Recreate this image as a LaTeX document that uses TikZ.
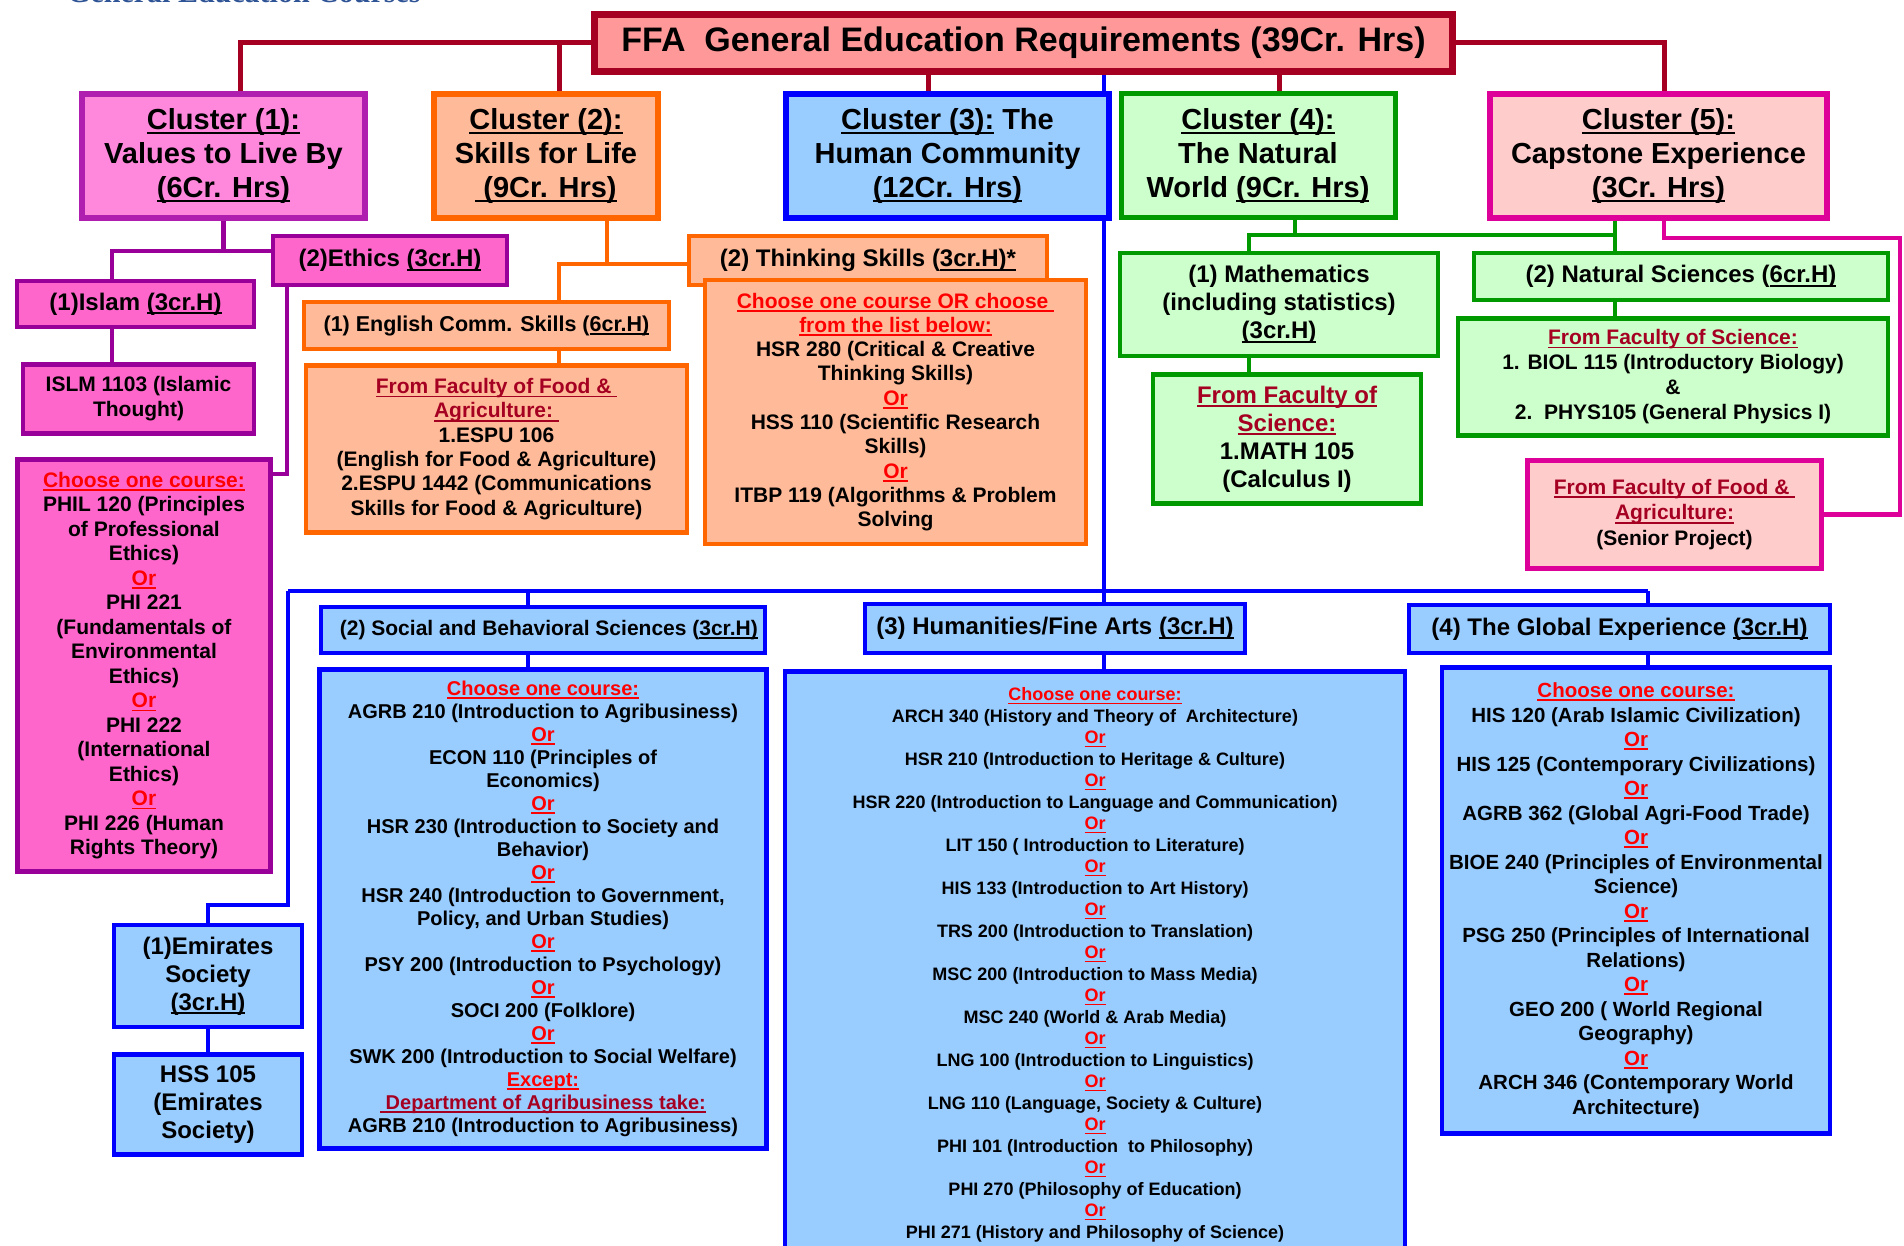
\documentclass[tikz,border=0pt]{standalone}
\usepackage{fontspec}
\setmainfont{Liberation Sans}
\newfontfamily\headserif{Liberation Serif}
\usetikzlibrary{positioning}

\definecolor{ttlfill}{HTML}{FF9999}
\definecolor{ttlline}{HTML}{A50021}
\definecolor{valfill}{HTML}{FF88DD}
\definecolor{valline}{HTML}{B01EB0}
\definecolor{vsubfill}{HTML}{FF66CC}
\definecolor{vsubline}{HTML}{990099}
\definecolor{sklfill}{HTML}{FFBB99}
\definecolor{sklline}{HTML}{FF6600}
\definecolor{humfill}{HTML}{99CCFF}
\definecolor{humline}{HTML}{0000FF}
\definecolor{natfill}{HTML}{CCFFCC}
\definecolor{natline}{HTML}{009900}
\definecolor{capfill}{HTML}{FFCCCC}
\definecolor{capline}{HTML}{DD0099}
\definecolor{orred}{HTML}{FF0000}
\definecolor{facred}{HTML}{A50021}
\definecolor{headblue}{HTML}{2F5496}

\newcommand{\uln}[1]{\setbox0=\hbox{#1}\rlap{\rule[-0.17em]{\wd0}{0.08em}}\box0\relax}
\newcommand{\orline}{\textcolor{orred}{\uln{Or}}}
\newcommand{\pick}[1]{\textcolor{orred}{\uln{#1}}}
\newcommand{\faculty}[1]{\textcolor{facred}{\uln{#1}}}

\begin{document}
\begin{tikzpicture}[
	x=1pt, y=-1pt,
	every node/.style = {shape=rectangle, align=center, inner sep=0pt, font=\bfseries},
	dims/.style 2 args = {minimum width=#1pt, minimum height=#2pt},
	fs/.style 2 args = {font=\fontsize{#1}{#2}\selectfont\bfseries},
	ttl/.style = {draw=ttlline, fill=ttlfill, line width=7pt},
	clus/.style = {line width=6pt, fs={29}{34}},
	val/.style = {draw=valline, fill=valfill},
	valsub/.style = {draw=vsubline, fill=vsubfill, line width=4.5pt},
	skl/.style = {draw=sklline, fill=sklfill, line width=4.5pt},
	hum/.style = {draw=humline, fill=humfill, line width=4.5pt},
	nat/.style = {draw=natline, fill=natfill, line width=4.5pt},
	capst/.style = {draw=capline, fill=capfill, line width=5pt},
	link/.style = {line width=4.5pt},
	]
\useasboundingbox (0,0) rectangle (1904,1246);

% page heading, cut off at the top edge
\node[anchor=base west, font=\fontsize{30}{36}\selectfont\headserif\bfseries, text=headblue] (hd) at (67,3) {General Education Courses};

% title and the five clusters
\node[ttl, dims={858}{57}, fs={34}{40}] (T) at (1023.5,43) {FFA\ \ General Education Requirements (39Cr. Hrs)};
\node[val, clus, dims={283}{124}] (C1) at (223.5,156) {\uln{Cluster (1):}\\Values to Live By\\\uln{(6Cr. Hrs)}};
\node[skl, clus, dims={224}{124}] (C2) at (546,156) {\uln{Cluster (2):}\\Skills for Life\\\uln{\ (9Cr. Hrs)}};
\node[hum, clus, dims={323}{124}] (C3) at (947.5,156) {\uln{Cluster (3):} The\\Human Community\\\uln{(12Cr. Hrs)}};
\node[nat, clus, line width=5pt, dims={274}{124}] (C4) at (1258,156) {\uln{Cluster (4):}\\The Natural\\World \uln{(9Cr. Hrs)}};
\node[capst, clus, dims={337}{124}] (C5) at (1658.5,156) {\uln{Cluster (5):}\\Capstone Experience\\\uln{(3Cr. Hrs)}};

% cluster 1
\node[valsub, dims={234}{49}, fs={24}{28}] (E2) at (390,260.5) {(2)Ethics \uln{(3cr.H)}};
\node[valsub, dims={237}{46}, fs={24}{28}] (E1) at (135.5,304) {(1)Islam \uln{(3cr.H)}};
\node[valsub, dims={231}{69}, fs={21}{25}] (ISLM) [below=33pt of E1, xshift=3pt] {ISLM 1103 (Islamic\\Thought)};
\node[valsub, line width=5pt, dims={253}{412}, fs={21}{24.5}] (EthList) at (144,665.5) {\pick{Choose one course:}\\PHIL 120 (Principles\\of Professional\\Ethics)\\\orline\\PHI 221\\(Fundamentals of\\Environmental\\Ethics)\\\orline\\PHI 222\\(International\\Ethics)\\\orline\\PHI 226 (Human\\Rights Theory)};

% cluster 2
\node[skl, dims={365}{47}, fs={21.5}{25}] (S1) at (486.5,325.5) {(1) English Comm. Skills (\uln{6cr.H)}};
\node[skl, dims={381}{167}, fs={21}{24.3}] (S1L) [below=12pt of S1, xshift=10pt] {\faculty{From Faculty of Food \&\ }\\\faculty{Agriculture:\ }\\1.ESPU 106\\(English for Food \& Agriculture)\\2.ESPU 1442 (Communications\\Skills for Food \& Agriculture)};
\node[skl, dims={358}{49}, fs={24}{28}] (S2) at (868,260.5) {(2) Thinking Skills (\uln{3cr.H)*}};
\node[skl, dims={381}{264}, fs={21}{24.3}] (S2L) at (895.5,412) {\pick{Choose one course OR choose\ }\\\pick{from the list below:}\\HSR 280 (Critical \& Creative\\Thinking Skills)\\\orline\\HSS 110 (Scientific Research\\Skills)\\\orline\\ITBP 119 (Algorithms \& Problem\\Solving};

% cluster 4
\node[nat, dims={318}{103}, fs={24}{28}] (N1) at (1279,304.5) {(1) Mathematics\\(including statistics)\\\uln{(3cr.H)}};
\node[nat, dims={268}{129}, fs={24}{28}] (N1L) [below=14pt of N1, xshift=8pt] {\faculty{From Faculty of}\\\faculty{Science:}\\1.MATH 105\\(Calculus I)};
\node[nat, dims={414}{47}, fs={24}{28}] (N2) at (1681,276.5) {(2) Natural Sciences (\uln{6cr.H)}};
\node[nat, dims={430}{117}, fs={21}{25}] (N2L) [below=14pt of N2, xshift=-8pt] {\faculty{From Faculty of Science:}\\1. BIOL 115 (Introductory Biology)\\\&\\2.\ \ PHYS105 (General Physics I)};

% cluster 5
\node[capst, dims={294}{108}, fs={21}{25.5}] (P1) at (1674.5,514.5) {\faculty{From Faculty of Food \&\ }\\\faculty{Agriculture:}\\(Senior Project)};

% cluster 3
\node[hum, dims={188}{102}, fs={24}{28}] (H1) at (208,976) {(1)Emirates\\Society\\\uln{(3cr.H)}};
\node[hum, dims={188}{100}, fs={24}{28}] (H1L) [below=23pt of H1] {HSS 105\\(Emirates\\Society)};
\node[hum, dims={444}{46}, fs={21}{25}] (H2) at (543,630) {\ \ (2) Social and Behavioral Sciences (\uln{3cr.H)}};
\node[hum, dims={447}{479}, fs={20}{23}] (H2L) [below=12pt of H2] {\pick{Choose one course:}\\AGRB 210 (Introduction to Agribusiness)\\\orline\\ECON 110 (Principles of\\Economics)\\\orline\\HSR 230 (Introduction to Society and\\Behavior)\\\orline\\HSR 240 (Introduction to Government,\\Policy, and Urban Studies)\\\orline\\PSY 200 (Introduction to Psychology)\\\orline\\SOCI 200 (Folklore)\\\orline\\SWK 200 (Introduction to Social Welfare)\\\pick{Except:}\\\faculty{\ Department of Agribusiness take:}\\AGRB 210 (Introduction to Agribusiness)};
\node[hum, dims={380}{49}, fs={24}{28}] (H3) at (1055,628.5) {(3) Humanities/Fine Arts \uln{(3cr.H)}};
\node[hum, dims={620}{587}, fs={18}{21.5}] (H3L) [below=14pt of H3, xshift=40pt] {\pick{Choose one course:}\\ARCH 340 (History and Theory of\ \ Architecture)\\\orline\\HSR 210 (Introduction to Heritage \& Culture)\\\orline\\HSR 220 (Introduction to Language and Communication)\\\orline\\LIT 150 ( Introduction to Literature)\\\orline\\HIS 133 (Introduction to Art History)\\\orline\\TRS 200 (Introduction to Translation)\\\orline\\MSC 200 (Introduction to Mass Media)\\\orline\\MSC 240 (World \& Arab Media)\\\orline\\LNG 100 (Introduction to Linguistics)\\\orline\\LNG 110 (Language, Society \& Culture)\\\orline\\PHI 101 (Introduction\ \ to Philosophy)\\\orline\\PHI 270 (Philosophy of Education)\\\orline\\PHI 271 (History and Philosophy of Science)};
\node[hum, dims={421}{48}, fs={24}{28}] (H4) at (1619.5,629) {(4) The Global Experience \uln{(3cr.H)}};
\node[hum, dims={388}{466}, fs={20.5}{24.5}] (H4L) [below=10pt of H4, xshift=16.5pt] {\pick{Choose one course:}\\HIS 120 (Arab Islamic Civilization)\\\orline\\HIS 125 (Contemporary Civilizations)\\\orline\\AGRB 362 (Global Agri-Food Trade)\\\orline\\BIOE 240 (Principles of Environmental\\Science)\\\orline\\PSG 250 (Principles of International\\Relations)\\\orline\\GEO 200 ( World Regional\\Geography)\\\orline\\ARCH 346 (Contemporary World\\Architecture)};

% links from the title
\draw[link, ttlline, line width=5pt] (T.west) -| ([xshift=16.5pt]C1.north);
\draw[link, ttlline, line width=5pt] ([xshift=13pt]C2.north) -- ([xshift=13pt]C2.north |- T.west);
\draw[link, ttlline, line width=5pt] ([xshift=-19.5pt]C3.north) -- ([xshift=-19.5pt]C3.north |- T.south);
\draw[link, ttlline, line width=5pt] ([xshift=21.5pt]C4.north) -- ([xshift=21.5pt]C4.north |- T.south);
\draw[link, ttlline, line width=5pt] (T.east) -| ([xshift=5.5pt]C5.north);

% cluster 1 links
\coordinate (pj) at (112,251);
\coordinate (pe) at (287,474);
\draw[link, vsubline] (C1.south) -- (C1.south |- pj);
\draw[link, vsubline] (pj |- E1.north) -- (pj) -- (pj -| E2.west);
\draw[link, vsubline] (pj |- E1.south) -- (pj |- ISLM.north);
\draw[link, vsubline] (pe |- E2.south) -- (pe) -- (pe -| EthList.east);

% cluster 2 links
\coordinate (oj) at (559,264);
\draw[link, sklline] ([xshift=61pt]C2.south) -- ([xshift=61pt]C2.south |- oj);
\draw[link, sklline] (oj |- S1.north) -- (oj) -- (oj -| S2.west);
\draw[link, sklline] (oj |- S1.south) -- (oj |- S1L.north);

% cluster 3 links
\coordinate (busL) at (288,591);
\coordinate (bsbs) at (528,591);
\coordinate (bb) at (1104,591);
\coordinate (busR) at (1648,591);
\draw[link, humline] (T.south -| bb) -- (C3.north -| bb);
\draw[link, humline] (C3.south -| bb) -- (bb);
\draw[link, humline] (busL) -- (busR);
\draw[link, humline] (busL) -- (busL |- 0,905) -| (H1.north);
\draw[link, humline] (H1.south) -- (H1L.north);
\draw[link, humline] (bsbs) -- (bsbs |- H2.north);
\draw[link, humline] (bsbs |- H2.south) -- (bsbs |- H2L.north);
\draw[link, humline] (bb) -- (bb |- H3.north);
\draw[link, humline] (bb |- H3.south) -- (bb |- H3L.north);
\draw[link, humline] (busR) -- (busR |- H4.north);
\draw[link, humline] (busR |- H4.south) -- (busR |- H4L.north);

% cluster 4 links
\coordinate (gj) at (1249,235);
\coordinate (gk) at (1615,235);
\draw[link, natline] ([xshift=37pt]C4.south) -- ([xshift=37pt]C4.south |- gj);
\draw[link, natline] (gj |- N1.north) -- (gj) -- (gk) -- (gk |- C5.south);
\draw[link, natline] (gk) -- (gk |- N2.north);
\draw[link, natline] (gj |- N1.south) -- (gj |- N1L.north);
\draw[link, natline] (gk |- N2.south) -- (gk |- N2L.north);

% cluster 5 link
\coordinate (pk) at (1900,238);
\draw[link, capline] ([xshift=5.5pt]C5.south) |- (pk) |- (P1.east);
\end{tikzpicture}
\end{document}
